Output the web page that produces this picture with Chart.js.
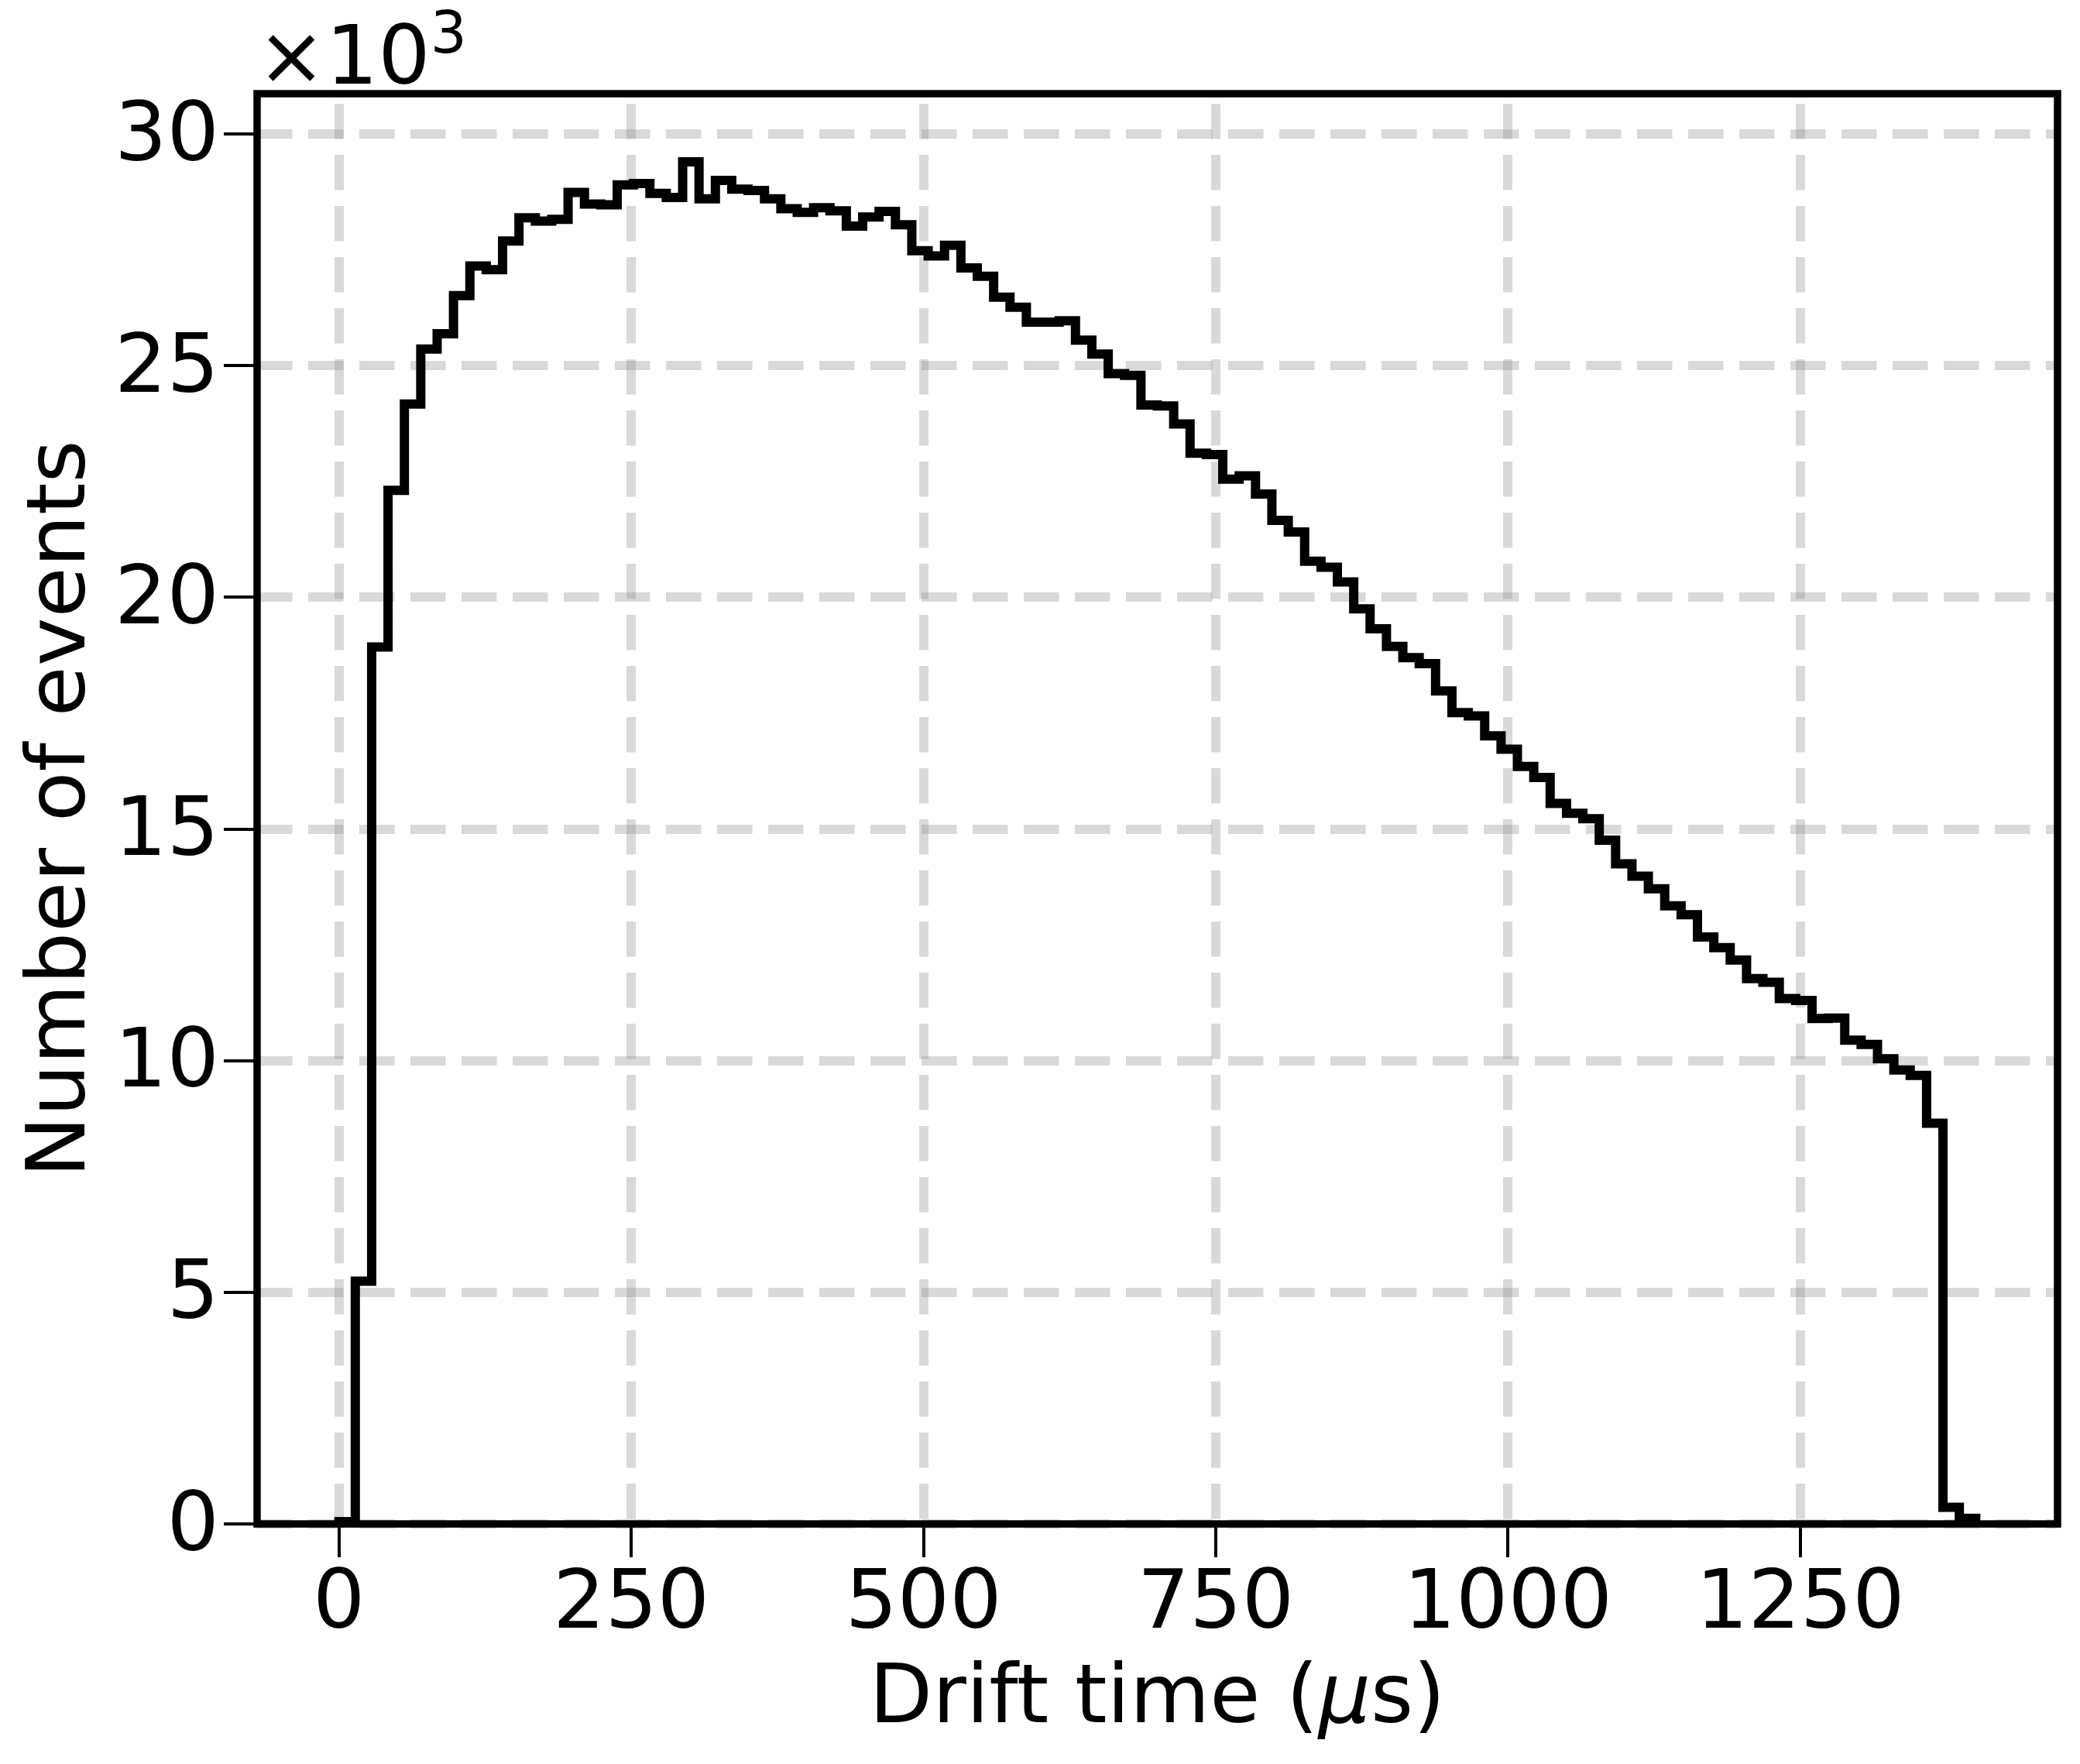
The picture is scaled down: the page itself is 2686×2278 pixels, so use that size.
<!DOCTYPE html>
<html>
<head>
<meta charset="utf-8">
<title>Drift time histogram</title>
<script src="https://cdn.jsdelivr.net/npm/chart.js@4/dist/chart.umd.min.js"></script>
<style>
  html, body { margin: 0; padding: 0; background: #fff; }
  #wrap { width: 2686px; height: 2278px; }
</style>
</head>
<body>
<div id="wrap"><canvas id="driftChart" width="2686" height="2278"></canvas></div>
<script>
// Histogram of drift times, 100 bins of 14 us from 0 to 1400 us
const BIN_WIDTH = 14;
// bin contents, in units of 10^3 events
const countsK = [
  0.05, 5.24, 18.93, 22.31, 24.17, 25.36, 25.69, 26.51, 27.15, 27.07,
  27.69, 28.19, 28.12, 28.16, 28.74, 28.49, 28.47, 28.90, 28.93, 28.72,
  28.63, 29.40, 28.60, 29.00, 28.81, 28.78, 28.60, 28.39, 28.31, 28.41,
  28.34, 28.01, 28.21, 28.33, 28.04, 27.48, 27.37, 27.60, 27.11, 26.93,
  26.48, 26.26, 25.94, 25.94, 25.97, 25.55, 25.25, 24.83, 24.79, 24.15,
  24.13, 23.74, 23.11, 23.08, 22.55, 22.62, 22.23, 21.66, 21.41, 20.78,
  20.65, 20.33, 19.75, 19.32, 18.94, 18.70, 18.57, 17.98, 17.51, 17.44,
  17.01, 16.72, 16.35, 16.11, 15.55, 15.34, 15.22, 14.76, 14.25, 13.98,
  13.71, 13.34, 13.15, 12.67, 12.44, 12.17, 11.77, 11.69, 11.34, 11.30,
  10.91, 10.92, 10.44, 10.35, 10.04, 9.80, 9.68, 8.65, 0.36, 0.12
];
const xTickValues = [0, 250, 500, 750, 1000, 1250];
const yTickValues = [0, 5, 10, 15, 20, 25, 30];
const xRange = [-70, 1470];
const yRange = [0, 30.87];

const FONT = "'DejaVu Sans'";
const FS = 106;

// step outline: start at (0,0), one point per bin left edge, close at the last edge
const stepPoints = [{ x: 0, y: 0 }];
countsK.forEach((c, i) => stepPoints.push({ x: i * BIN_WIDTH, y: c }));
stepPoints.push({ x: countsK.length * BIN_WIDTH, y: 0 });

const gridColor = 'rgba(128,128,128,0.3)';

// frame on top of the data, axis titles and the x10^3 offset text
const frameAndLabels = {
  id: 'frameAndLabels',
  afterDatasetsDraw(chart) {
    const { ctx, chartArea: a } = chart;
    ctx.save();
    ctx.strokeStyle = '#000';
    ctx.lineWidth = 9.5;
    ctx.strokeRect(a.left, a.top, a.right - a.left, a.bottom - a.top);
    ctx.restore();
  },
  afterDraw(chart) {
    const { ctx, chartArea: a } = chart;
    ctx.save();
    ctx.fillStyle = '#000';
    ctx.textBaseline = 'alphabetic';

    // x title with italic mu
    const parts = [
      ['Drift time (', `${FS}px ${FONT}`],
      ['\u03bc', `italic ${FS}px ${FONT}`],
      ['s)', `${FS}px ${FONT}`]
    ];
    let total = 0;
    parts.forEach(p => { ctx.font = p[1]; total += ctx.measureText(p[0]).width; });
    let x = (a.left + a.right) / 2 - total / 2;
    ctx.textAlign = 'left';
    parts.forEach(p => {
      ctx.font = p[1];
      ctx.fillText(p[0], x, 2224);
      x += ctx.measureText(p[0]).width;
    });

    // y title
    ctx.save();
    ctx.translate(109, (a.top + a.bottom) / 2);
    ctx.rotate(-Math.PI / 2);
    ctx.textAlign = 'center';
    ctx.font = `${FS}px ${FONT}`;
    ctx.fillText('Number of events', 0, 0);
    ctx.restore();

    // offset text
    ctx.textAlign = 'left';
    ctx.font = `${FS}px ${FONT}`;
    ctx.fillText('\u00d710', a.left, 108);
    const w = ctx.measureText('\u00d710').width;
    ctx.font = `${Math.round(FS * 0.7)}px ${FONT}`;
    ctx.fillText('3', a.left + w, 68);
    ctx.restore();
  }
};

const ctx = document.getElementById('driftChart').getContext('2d');
const driftChart = new Chart(ctx, {
  type: 'line',
  data: {
    datasets: [{
      label: 'Drift time',
      data: stepPoints,
      stepped: 'before',
      borderColor: '#000',
      borderWidth: 12,
      borderJoinStyle: 'miter',
      borderCapStyle: 'butt',
      pointRadius: 0,
      fill: false,
      tension: 0
    }]
  },
  options: {
    responsive: false,
    animation: false,
    devicePixelRatio: 1,
    layout: { padding: { left: 0, right: 29, top: 121, bottom: 0 } },
    plugins: {
      legend: { display: false },
      tooltip: { enabled: false }
    },
    scales: {
      x: {
        type: 'linear',
        min: xRange[0],
        max: xRange[1],
        afterBuildTicks: (scale) => { scale.ticks = xTickValues.map(v => ({ value: v })); },
        afterFit: (scale) => { scale.height = 310; },
        ticks: {
          color: '#000',
          font: { family: FONT, size: FS },
          padding: 0,
          maxRotation: 0,
          autoSkip: false,
          callback: (v) => String(v)
        },
        grid: {
          color: gridColor,
          lineWidth: 12,
          drawTicks: true,
          tickLength: 43,
          tickWidth: 4,
          tickColor: '#000',
          tickBorderDash: []
        },
        border: { display: false, dash: [45.5, 20.5], dashOffset: 53 }
      },
      y: {
        type: 'linear',
        min: yRange[0],
        max: yRange[1],
        afterBuildTicks: (scale) => { scale.ticks = yTickValues.map(v => ({ value: v })); },
        afterFit: (scale) => { scale.width = 332; },
        ticks: {
          color: '#000',
          font: { family: FONT, size: FS },
          padding: 6,
          labelOffset: 6,
          autoSkip: false,
          callback: (v) => String(v)
        },
        grid: {
          color: gridColor,
          lineWidth: 12,
          drawTicks: true,
          tickLength: 43,
          tickWidth: 4,
          tickColor: '#000',
          tickBorderDash: []
        },
        border: { display: false, dash: [45.5, 20.5], dashOffset: 0 }
      }
    }
  },
  plugins: [frameAndLabels]
});
</script>
</body>
</html>
